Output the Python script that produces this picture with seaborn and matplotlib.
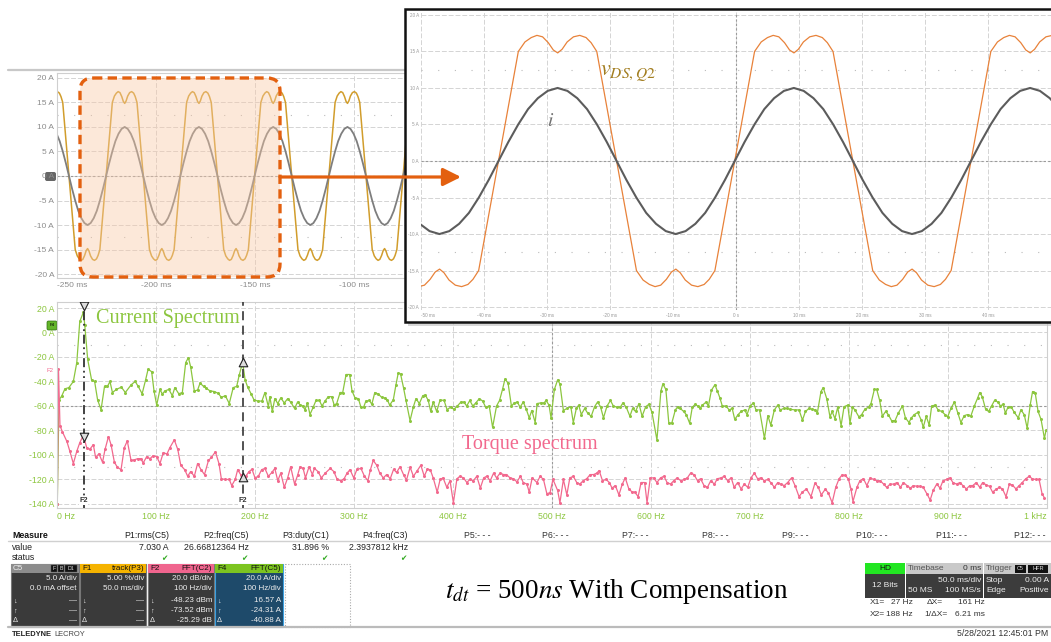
import numpy as np
import pandas as pd
import matplotlib
matplotlib.use("Agg")
import matplotlib.pyplot as plt
import seaborn as sns
from matplotlib.patches import FancyBboxPatch, Rectangle

# ----------------------------------------------------------------- data
# one measured cycle of each waveform (phase in ms from the rising zero crossing)
PERIOD_MS = 37.5
FIRST_RISE_MS = -262.7
N_CYCLES = 15

vds_phase = [0.0, 1.05, 2.1, 3.15, 4.2, 5.2, 6.1, 7.0, 7.9, 8.7, 9.4, 10.1, 10.9, 11.9, 12.9,
             13.9, 14.7, 15.6, 16.65, 17.7,
             18.75, 19.8, 20.85, 21.9, 22.95, 23.95, 24.85, 25.75, 26.65, 27.45, 28.15, 28.85,
             29.65, 30.65, 31.65, 32.65, 33.45, 34.35, 35.4, 36.45]
vds_amp = [0, 5, 10, 15, 16.3, 16.9, 17.2, 17.0, 16.2, 15.2, 14.8, 15.3, 16.3, 17.0, 17.2,
           16.9, 16.2, 15.0, 10, 5,
           0, -5, -10, -15, -16.3, -16.9, -17.2, -17.0, -16.2, -15.2, -14.8, -15.3,
           -16.3, -17.0, -17.2, -16.9, -16.2, -15.0, -10, -5]

cur_phase = [0.0, 1.56, 3.13, 4.69, 6.25, 7.81, 9.38, 10.94, 12.5, 14.06, 15.63, 17.19,
             18.75, 20.31, 21.88, 23.44, 25.0, 26.56, 28.13, 29.69, 31.25, 32.81, 34.38, 35.94]
cur_amp = [0, 2.6, 5.0, 7.1, 8.6, 9.6, 10.0, 9.6, 8.6, 7.1, 5.0, 2.6,
           0, -2.6, -5.0, -7.1, -8.6, -9.6, -10.0, -9.6, -8.6, -7.1, -5.0, -2.6]

# current spectrum (F4)
cs_hz = [0.3, 2, 4.7, 8, 12, 16.5, 20, 23, 26.7, 28, 31, 35, 38, 41, 44.5, 48, 51, 53.5, 56, 60, 65, 69,
         75, 79, 82, 86, 89.5, 92, 95.6, 98, 100.7, 104, 106.4, 109, 113, 116.5, 119, 123, 126.6, 130,
         132.7, 135, 138.7, 142, 144.5, 148, 151, 154.6, 159, 163, 166, 170, 174, 178, 181.5, 184,
         187.5, 190, 192.6, 196, 199, 203, 207, 210, 213.5, 215, 217.5, 220, 223, 226, 229.6, 233,
         236, 240, 243, 245.5, 248, 250.5, 253, 255.5, 259, 261.6, 265, 267.7, 270.7, 274, 277.5,
         280, 282.5, 286, 288.6, 292, 295.6, 298, 301, 304.4, 307, 309.7, 312, 315.6, 318, 321,
         324.6, 328, 331, 333.7, 336, 339.7, 342.4, 344.7, 347, 350, 352.5, 356.6, 360, 362.6, 366,
         369.5, 372, 375, 377.5, 380, 383.5, 387, 391, 394, 397.6, 401, 404.4, 408, 411, 413.8, 417,
         420, 423, 426.6, 430, 433, 436.6, 440, 444, 447, 450, 452.5, 455.6, 459, 462, 465, 467.7,
         471, 474, 477, 479.6, 483, 485, 488.6, 492, 494, 497, 499, 502.4, 505.7, 508, 511.5, 515,
         519, 521.5, 524.6, 527, 529.6, 533, 536, 539.6, 543, 546, 549, 552, 555.6, 559, 562, 565.6,
         569, 571.6, 575, 578.7, 581.4, 584.4, 587.8, 591, 594.6, 598, 601, 606, 610, 612, 615, 618,
         621, 624.6, 627, 629.6, 633, 635.6, 639, 641.7, 644.7, 647, 649.6, 652, 655.6, 658, 661,
         664.6, 667, 669.6, 672, 675.6, 679, 682, 684.6, 688, 691, 694.6, 697, 700, 703.5, 706,
         709.6, 714.6, 718, 721, 724.6, 728, 730.6, 734, 737, 740.6, 745.5, 749.5, 753, 756, 759.6,
         763, 765.6, 768, 771.7, 774, 777.5, 780.8, 783, 785.8, 788.6, 792, 795, 798.7, 801, 803.5,
         806, 810, 812.8, 816, 819.7, 822.2, 825.6, 828, 831, 833.7, 837, 839.7, 843, 846.5, 849.8,
         854, 857, 860.6, 863, 866, 869.4, 873, 875, 878, 881, 883.5, 887, 890, 893.6, 897, 899.6,
         903, 906.4, 910, 913, 916.4, 919.7, 923, 926.6, 930, 932, 934.6, 938, 941, 944, 947, 950.5,
         953, 955.6, 958, 960.6, 964, 967, 971, 973.6, 977, 980, 983, 985.4, 988, 991, 994, 997.4, 999]
cs_db = [-140, -55, -52, -46, -45, -40, -24.5, 9, 16.6, 6.5, -22, -39, -40, -55, -63, -44, -44, -40, -49,
         -46.5, -44.6, -49, -42.6, -40, -44, -50, -38.7, -30, -32, -47.7, -59.3, -46.5, -50.3, -47.7,
         -46.5, -51.6, -45, -50, -49, -24.5, -20.6, -28, -47.7, -47, -41.3, -44, -45.7, -47.7, -48.2,
         -49.8, -53, -51.6, -58, -45, -44, -35, -24.3, -38.7, -44.6, -50, -55, -56, -56, -49, -60.6,
         -52.4, -64.5, -54, -58, -53.4, -57.5, -54, -56.8, -62, -56.8, -59, -60, -63, -57.5, -67,
         -60.6, -55.5, -55.5, -60, -56, -52.4, -52.4, -59.3, -58, -49, -49, -34.3, -34.3, -47.7,
         -53.4, -54, -61, -61, -56, -55.5, -58.6, -49, -50.3, -53, -53.4, -55, -59.3, -55, -42.6,
         -33, -33.8, -45, -55.5, -72, -60.6, -54, -58, -51.6, -51, -55.5, -64.5, -56.8, -64.5, -55,
         -55.5, -63, -61, -62.7, -60, -56.8, -56.8, -60, -55.5, -60, -57.5, -54, -56, -61, -60,
         -77.4, -60, -55.5, -46.5, -38, -41.3, -60, -57.5, -56.8, -61, -56.8, -62.7, -69.7, -63.7,
         -73.5, -58, -57.5, -57.5, -55.5, -59.3, -69.7, -46.5, -38.7, -42, -63.7, -62, -60.6, -73.5,
         -62, -59.3, -67, -62, -65.8, -68.4, -60.6, -56.8, -60.6, -69.7, -60, -55.5, -60, -61, -61,
         -57.5, -61, -68.4, -62, -64.5, -58, -68.4, -60.6, -58.6, -65.3, -87.7, -47.7, -42, -46.5,
         -74, -74, -63.2, -60.6, -62, -64.5, -67, -74, -61, -58.6, -60, -62, -59.3, -56.8, -60,
         -47.2, -42.6, -47.7, -53.4, -60, -60, -63.2, -62, -71, -67, -64.5, -63.2, -67, -60, -57.5,
         -63.2, -63.2, -86.4, -67.9, -75.6, -63.2, -59.3, -63.2, -62, -62, -62.7, -63.2, -63.2,
         -71.5, -64.5, -62, -62.7, -63.2, -65.8, -48.2, -45, -54, -68.9, -64.5, -70.4, -61, -76,
         -60.6, -59.3, -74, -61, -63.2, -68.9, -67, -62.7, -61, -58, -46.5, -46.5, -55.5, -68.4,
         -64.5, -67, -72, -72, -65.8, -60, -69.7, -73.5, -69.7, -67, -65.3, -71.5, -77.4, -68.4,
         -75.6, -60, -59.3, -63.2, -64.5, -67, -68.9, -62, -56.8, -65.8, -73.5, -67.9, -67, -68.4,
         -60, -53.4, -49, -52.4, -62.7, -64.5, -60, -55.5, -56.8, -60, -58.6, -65.8, -61, -61,
         -65.3, -69.7, -63.2, -67, -78.2, -59.3, -48.2, -49, -64.5, -71, -86.4, -80]

# torque spectrum (F2)
ts_hz = [0.3, 1.5, 3, 5.4, 10, 13, 16.5, 20, 23, 26.6, 30, 33, 36.7, 39, 42.4, 46, 48.5, 52, 54.6, 58,
         61, 64.7, 68, 71, 74.8, 78, 81.5, 84.8, 87, 90.6, 94, 97, 100.7, 104, 107.4, 111, 114,
         118.5, 122, 125, 129, 132, 135, 138.7, 142, 145.5, 149, 153, 156, 160, 163.6, 166, 170,
         174, 176.5, 180, 182.5, 186, 188, 190.6, 194, 197, 200, 203.4, 206.7, 210, 213.5, 217, 220,
         223, 226, 229.6, 233, 236, 240, 243, 245.5, 248.6, 251, 254.6, 258, 260, 263.6, 267, 271,
         276, 279.6, 283, 286.6, 290, 293, 296, 299.7, 303, 307, 310.6, 314, 316.6, 319.4, 323, 326,
         329.6, 333, 336.6, 340, 343, 346.5, 350, 353, 356.7, 360, 364, 367.5, 371, 374, 377, 380,
         384, 387, 390, 393.7, 397, 400.4, 404, 407, 410.6, 414, 417, 420.6, 424, 427.6, 431, 434,
         437.6, 441, 444, 447.6, 451, 454, 457.6, 461, 464.6, 468, 471, 474.6, 477, 480, 484.8, 488,
         491.4, 494.8, 498, 501, 505.7, 508, 511.5, 515, 518, 521.5, 525, 528, 531.6, 535, 538.6,
         542, 545.3, 547.6, 551, 554.6, 558, 560.6, 564, 567.6, 571, 574, 577.6, 581, 583.6, 587,
         590, 593.6, 596, 599.3, 602.7, 606, 609.6, 613, 616.3, 619.7, 623, 626.6, 630, 633.3,
         636.7, 640, 643.4, 647, 650, 653.6, 657, 660.4, 664, 667, 670.7, 674, 677.4, 681, 684,
         687.5, 691, 694.3, 697.7, 701, 704.4, 707.7, 711, 714.6, 718, 721, 724.6, 728, 731, 734.6,
         738, 742, 745.5, 749.5, 753, 757, 761.6, 765.6, 769, 772, 776, 779, 783, 786.6, 790, 793,
         796, 799.3, 802, 804, 808, 811, 814.6, 818, 821.5, 824.8, 828, 831.6, 835, 838, 841.6,
         845, 848.5, 852, 855, 858.6, 862, 865, 868.7, 872, 875, 878.6, 882, 885, 888.6, 892, 895,
         898.6, 902, 905, 908.6, 912, 915, 918.6, 922, 925, 928.6, 932, 935, 938.6, 942, 945,
         948.6, 952, 955, 958.6, 962, 965, 968.6, 972, 975, 978.6, 982, 985, 988.6, 992, 995, 997.4]
ts_db = [-140, -30, -76, -81, -89, -97, -107, -97, -90, -84, -94, -95.5, -91.6, -102, -99, -106, -95.5,
         -85, -91.6, -106, -110, -112, -94, -88.5, -104.5, -104, -103, -103, -106.6, -101.4, -103,
         -100.6, -101.4, -107, -98, -99.3, -94, -87.7, -95.5, -108.4, -112, -117.4, -113.5, -117.4,
         -107, -112, -116, -104.5, -102, -97.4, -107, -119.4, -120, -120, -125, -120, -112, -116.7,
         -118, -117.4, -113.5, -111.7, -118.7, -117.4, -112, -111, -117.4, -114.3, -111, -121,
         -114.8, -126.4, -118.7, -109.6, -123.8, -116.7, -109.6, -111, -118.7, -109.6, -116, -111,
         -113.5, -118.7, -114.8, -111, -113.5, -120, -121, -119.4, -114.8, -112, -118.7, -111.7,
         -111, -117.4, -121, -112, -104.5, -108.4, -114.8, -118.7, -116, -119.4, -111.7, -114.3,
         -109.6, -116, -120.5, -110, -117.4, -112.7, -108.4, -117.4, -111.7, -112, -118.7, -130.3,
         -120, -118.7, -126.4, -121, -139, -119.4, -117.4, -118.7, -122.5, -120, -121, -117.4, -127,
         -118.7, -117.4, -121, -114.8, -118.7, -114.8, -116, -116, -118.7, -119.4, -122, -117.4,
         -122.5, -123.8, -130.3, -118.7, -122.5, -117.4, -120, -131.6, -130.8, -120, -129, -139,
         -120, -132.6, -118.7, -117.4, -122.5, -123.8, -121, -119.4, -116, -116, -114.8, -112.7,
         -121, -120, -122.5, -127, -125, -132.6, -123.8, -118.7, -127.7, -130.3, -130.3, -134,
         -122.5, -122.5, -139, -118.7, -118.7, -122.5, -118.7, -117.4, -122.5, -123.8, -121, -118.7,
         -121, -120, -118.7, -114.8, -116, -121, -119.4, -125, -126.4, -121, -123.8, -119.4, -118.7,
         -117.4, -121, -118.7, -126.4, -122.5, -127.7, -123.8, -126.4, -118.7, -114.8, -119.4,
         -118.7, -121, -120, -122.5, -126.4, -122.5, -123.8, -125, -122.5, -118.7, -125, -134,
         -130.3, -127.7, -134, -123, -126.4, -132.6, -128, -130.8, -139, -126.4, -119.4, -116.3,
         -116.7, -119.4, -127.7, -138, -126.4, -121, -119.4, -125, -118.7, -120, -121, -121, -123.8,
         -126.4, -123.8, -123.8, -122.5, -126.4, -122.5, -125, -127, -125, -125.6, -125.6, -126.4,
         -131.6, -136.8, -129, -123.8, -127, -121, -120, -118.7, -122.5, -123.8, -122.5, -125,
         -127.7, -125, -125, -122.5, -126.4, -122.5, -124.5, -125.6, -130.3, -128, -126.4, -127.7,
         -134, -123.8, -124.5, -127.7, -125, -122.5, -119.4, -117.4, -119.4, -120, -120, -131.6, -135]

# cursor readouts
cursor_hz = [27, 188]
cursor_cur_db = [16.57, -24.31]
cursor_tq_db = [-85, -118]

top_yticks = [20, 15, 10, 5, 0, -5, -10, -15, -20]
top_xticks = [-250, -200, -150, -100, -50, 0, 50, 100, 150, 200]
inset_xticks = [-50, -40, -30, -20, -10, 0, 10, 20, 30, 40]
inset_xlabels = ["-50 ms", "-40 ms", "-30 ms", "-20 ms", "-10 ms", "0 s", "10 ms", "20 ms", "30 ms", "40 ms"]
spec_yticks = [20, 0, -20, -40, -60, -80, -100, -120, -140]
spec_xticks = [0, 100, 200, 300, 400, 500, 600, 700, 800, 900, 1000]
spec_xlabels = ["0 Hz", "100 Hz", "200 Hz", "300 Hz", "400 Hz", "500 Hz", "600 Hz",
                "700 Hz", "800 Hz", "900 Hz", "1 kHz"]

meas_names = ["P1:rms(C5)", "P2:freq(C5)", "P3:duty(C1)", "P4:freq(C3)"]
meas_values = ["7.030 A", "26.66812364 Hz", "31.896 %", "2.3937812 kHz"]
empty_params = ["P5:- - -", "P6:- - -", "P7:- - -", "P8:- - -", "P9:- - -", "P10:- - -", "P11:- - -", "P12:- - -"]

# ----------------------------------------------------------------- build frames
rows = []
for k in range(N_CYCLES):
    t0 = FIRST_RISE_MS + k * PERIOD_MS
    for p, a in zip(vds_phase, vds_amp):
        rows.append(("vds", t0 + p, a))
    for p, a in zip(cur_phase, cur_amp):
        rows.append(("i", t0 + p, a))
wave = pd.DataFrame(rows, columns=["trace", "t", "amp"]).sort_values(["trace", "t"])
vds = wave[wave.trace == "vds"]
cur = wave[wave.trace == "i"]
cs = pd.DataFrame({"f": cs_hz, "db": cs_db})
ts = pd.DataFrame({"f": ts_hz, "db": ts_db})

# ----------------------------------------------------------------- figure
W, H = 1051, 642
sns.set_theme(style="white")
plt.rcParams['font.family'] = ['Liberation Sans', 'DejaVu Sans']
plt.rcParams['mathtext.fontset'] = 'stix'

fig = plt.figure(figsize=(W / 100, H / 100), dpi=100)
fig.patch.set_facecolor("white")


def px_axes(x0, y0, x1, y1, z):
    ax = fig.add_axes([x0 / W, 1 - y1 / H, (x1 - x0) / W, (y1 - y0) / H])
    ax.set_zorder(z)
    return ax


def overlay(z):
    ov = px_axes(0, 0, W, H, z)
    ov.set_xlim(0, W)
    ov.set_ylim(H, 0)
    ov.axis("off")
    ov.patch.set_visible(False)
    return ov


GRID = "#D4D4D4"
CENTER = "#9A9A9A"


def scope_style(ax, xgrid, ygrid, xc, yc, half):
    ax.set_facecolor("white")
    for v in xgrid:
        ax.axvline(v, color=GRID, lw=0.7, ls=(0, (5, 2)), zorder=0)
    for v in ygrid:
        ax.axhline(v, color=GRID, lw=0.7, ls=(0, (5, 2)), zorder=0)
    ax.axvline(xc, color=CENTER, lw=0.8, ls=(0, (2, 2)), zorder=0)
    ax.axhline(yc, color=CENTER, lw=0.8, ls=(0, (2, 2)), zorder=0)
    for v in half:
        ax.axhline(v, color="#BBBBBB", lw=0.8, ls=(0, (1, 14)), zorder=0)
    for s in ax.spines.values():
        s.set_color("#CFCFCF")
        s.set_linewidth(0.8)
    ax.tick_params(length=0)
    ax.set_xlabel("")
    ax.set_ylabel("")


base = overlay(0)

# ---------------- top-left scope panel
ax_top = px_axes(57, 73, 1047, 278, 1)
sns.lineplot(data=vds, x="t", y="amp", ax=ax_top, color="#D19D2C", lw=1.1,
             estimator=None, sort=False, errorbar=None)
sns.lineplot(data=cur, x="t", y="amp", ax=ax_top, color="#7E7E7E", lw=1.3,
             estimator=None, sort=False, errorbar=None)
ax_top.set_xlim(-250, 250)
ax_top.set_ylim(-20.8, 21.0)
scope_style(ax_top, top_xticks, top_yticks, 0, 0, [12.5, -12.5])
ax_top.set_yticks(top_yticks)
ax_top.set_yticklabels([f"{v} A" for v in top_yticks], fontsize=6, color="#8C8C8C")
ax_top.set_xticks(top_xticks)
ax_top.set_xticklabels([f"{v} ms" for v in top_xticks], fontsize=6, color="#8C8C8C")
ax_top.tick_params(axis="y", pad=2)
ax_top.tick_params(axis="x", pad=3)
ax_top.get_xticklabels()[0].set_ha("left")

# ---------------- spectrum panel
ax_sp = px_axes(57, 302, 1047, 508, 1)
sns.lineplot(data=cs, x="f", y="db", ax=ax_sp, color="#8CC63F", lw=0.9, marker="o",
             markersize=2.2, markeredgewidth=0, estimator=None, sort=False, errorbar=None)
sns.lineplot(data=ts, x="f", y="db", ax=ax_sp, color="#F2698E", lw=0.9, marker="o",
             markersize=2.2, markeredgewidth=0, estimator=None, sort=False, errorbar=None)
ax_sp.set_xlim(0, 1000)
ax_sp.set_ylim(-143.3, 24.9)
scope_style(ax_sp, spec_xticks, spec_yticks, 500, -60, [-10, -110])
ax_sp.set_yticks(spec_yticks)
ax_sp.set_yticklabels([f"{v} A" for v in spec_yticks], fontsize=6.3, color="#8DC63F")
ax_sp.set_xticks(spec_xticks)
ax_sp.set_xticklabels(spec_xlabels, fontsize=6.3, color="#8DC63F")
ax_sp.tick_params(axis="y", pad=2)
ax_sp.tick_params(axis="x", pad=3)
ax_sp.get_xticklabels()[0].set_ha("left")
ax_sp.get_xticklabels()[-1].set_ha("right")
# cursors
ax_sp.axvline(cursor_hz[0], color="#333333", lw=1.3, ls=(0, (5, 2, 1, 2, 1, 2)), zorder=3)
ax_sp.axvline(cursor_hz[1], color="#444444", lw=1.3, ls=(0, (5, 3)), zorder=3)
ax_sp.scatter([cursor_hz[0]], [22], marker="v", s=38, color="#DDDDDD", edgecolor="#222222", lw=0.8, zorder=4)
ax_sp.scatter([cursor_hz[0]], [cursor_tq_db[0]], marker="v", s=38, color="#DDDDDD", edgecolor="#222222", lw=0.8, zorder=4)
ax_sp.scatter([cursor_hz[1]], [cursor_cur_db[1]], marker="^", s=38, color="#DDDDDD", edgecolor="#222222", lw=0.8, zorder=4)
ax_sp.scatter([cursor_hz[1]], [cursor_tq_db[1]], marker="^", s=38, color="#DDDDDD", edgecolor="#222222", lw=0.8, zorder=4)
for f in cursor_hz:
    ax_sp.text(f, -137.5, "F2", fontsize=5.2, ha="center", va="center", color="#333333",
               fontweight="bold", bbox=dict(fc="white", ec="none", pad=0.3), zorder=5)

# ---------------- middle overlay: highlighted window + inset background
mid = overlay(2)
mid.add_patch(FancyBboxPatch((80, 78), 200, 199, boxstyle="round,pad=0,rounding_size=13",
                             fc="#F9C9A6", alpha=0.42, ec="none"))
mid.add_patch(FancyBboxPatch((80, 78), 200, 199, boxstyle="round,pad=0,rounding_size=13",
                             fc="none", ec="#E3600F", lw=2.4, ls=(0, (2.8, 1.6))))
mid.add_patch(Rectangle((408, 12), 650, 314, fc="#BDBDBD", ec="none", alpha=0.6))
mid.add_patch(Rectangle((405, 9), 652, 313, fc="white", ec="#111111", lw=1.8))

# ---------------- inset zoom
ax_in = px_axes(421, 12, 1051, 310, 3)
ax_in.patch.set_visible(False)
sns.lineplot(data=vds, x="t", y="amp", ax=ax_in, color="#E8823A", lw=0.9,
             estimator=None, sort=False, errorbar=None)
sns.lineplot(data=cur, x="t", y="amp", ax=ax_in, color="#5C5C5C", lw=1.5,
             estimator=None, sort=False, errorbar=None)
ax_in.set_xlim(-50, 50)
ax_in.set_ylim(-20.4, 20.4)
scope_style(ax_in, inset_xticks, top_yticks, 0, 0, [12.5, -12.5])
for s in ax_in.spines.values():
    s.set_visible(False)
ax_in.set_yticks(top_yticks)
ax_in.set_yticklabels([f"{v} A" for v in top_yticks], fontsize=3.3, color="#999999")
ax_in.set_xticks(inset_xticks)
ax_in.set_xticklabels(inset_xlabels, fontsize=3.3, color="#999999")
ax_in.tick_params(axis="y", pad=1.5)
ax_in.tick_params(axis="x", pad=2)
ax_in.get_xticklabels()[0].set_ha("left")

# ---------------- top overlay: arrow and annotations
top = overlay(4)
top.annotate("", xy=(461, 177), xytext=(280, 177),
             arrowprops=dict(arrowstyle="-|>,head_length=0.9,head_width=0.45", lw=2.3,
                             color="#E3600F", shrinkA=0, shrinkB=0))
top.text(600, 73, r"$v_{DS,Q2}$", fontsize=16, color="#A27D1F", ha="left", va="center")
top.text(551, 122, r"$i$", fontsize=14, color="#707070", ha="center", va="center")
top.text(96, 318, "Current Spectrum", fontsize=14.5, color="#8CC63F", family="Liberation Serif",
         ha="left", va="center")
top.text(462, 444, "Torque spectrum", fontsize=14.5, color="#F2698E", family="Liberation Serif",
         ha="left", va="center")

# ---------------- base overlay: frame lines, labels, status panels
base.plot([8, 405], [70, 70], color="#C8C8C8", lw=1.6)
base.plot([8, 1051], [541, 541], color="#D0D0D0", lw=1.0)
base.plot([8, 1051], [627, 627], color="#BBBBBB", lw=1.6)
base.add_patch(FancyBboxPatch((45, 172), 11, 9, boxstyle="round,pad=0,rounding_size=2", fc="#666666", ec="none"))
base.add_patch(FancyBboxPatch((47, 321), 10, 9, boxstyle="round,pad=0,rounding_size=1.5", fc="#63B52A", ec="#2F6E10", lw=0.5))
base.text(52, 325.5, "F4", fontsize=3.2, color="black", ha="center", va="center")
base.text(50, 370, "F2", fontsize=4.3, color="#F2698E", ha="center", va="center")

# measure table
FS = 6.3
base.text(12, 535, "Measure", fontsize=FS, fontweight="bold", va="center", color="#111111")
base.text(12, 547, "value", fontsize=FS, va="center", color="#222222")
base.text(12, 558, "status", fontsize=FS, va="center", color="#222222")
meas_right = [169, 249, 329, 408]
for xr, n, v in zip(meas_right, meas_names, meas_values):
    base.text(xr, 535, n, fontsize=FS, ha="right", va="center", color="#222222")
    base.text(xr, 547, v, fontsize=FS, ha="right", va="center", color="#222222")
    base.text(xr - 5, 558, "\u2714", fontsize=5.5, ha="center", va="center", color="#33AA22",
              family=["DejaVu Sans"])
empty_right = [491, 569, 649, 729, 808, 887, 967, 1046]
for xr, n in zip(empty_right, empty_params):
    base.text(xr, 535, n, fontsize=FS, ha="right", va="center", color="#333333")

# channel boxes
boxes = [
    (11, 79, "#8C8C8C", "#3A3A3A", "C5", "", "#F0F0F0",
     ["5.0 A/div", "0.0 mA offset"], ["\u2014", "\u2014", "\u2014"]),
    (80, 146, "#F5B300", "#3A3A3A", "F1", "track(P3)", "#111111",
     ["5.00 %/div", "50.0 ms/div"], ["\u2014", "\u2014", "\u2014"]),
    (148, 214, "#F0658E", "#3A3A3A", "F2", "FFT(C2)", "#111111",
     ["20.0 dB/div", "100 Hz/div"], ["-48.23 dBm", "-73.52 dBm", "-25.29 dB"]),
    (215, 283, "#7CC421", "#1E4A6A", "F4", "FFT(C5)", "#111111",
     ["20.0 A/div", "100 Hz/div"], ["16.57 A", "-24.31 A", "-40.88 A"]),
]
for x0, x1, hc, bc, lab, fn, htc, l1, l3 in boxes:
    base.add_patch(Rectangle((x0, 564), x1 - x0, 63, fc=bc, ec="#3BA0E0" if lab == "F4" else "#777777", lw=0.8))
    base.add_patch(Rectangle((x0, 564), x1 - x0, 9, fc=hc, ec="none"))
    base.text(x0 + 2, 568.5, lab, fontsize=5.8, color=htc, va="center")
    if fn:
        base.text(x1 - 2, 568.5, fn, fontsize=5.8, color=htc, va="center", ha="right")
    base.text(x1 - 2, 579, l1[0], fontsize=5.8, color="#EEEEEE", va="center", ha="right")
    base.text(x1 - 2, 589, l1[1], fontsize=5.8, color="#EEEEEE", va="center", ha="right")
    for yy, sym, val in zip([601, 611, 621], ["\u2193", "\u2191", "\u0394"], l3):
        base.text(x0 + 2, yy, sym, fontsize=5.3, color="#EEEEEE", va="center")
        base.text(x1 - 2, yy, val, fontsize=5.8, color="#EEEEEE", va="center", ha="right")
for i, t in enumerate(["F", "B", "D1"]):
    bx = [51, 58, 65][i]
    base.add_patch(Rectangle((bx, 565), 6 if t != "D1" else 12, 7, fc="#111111", ec="#555555", lw=0.3))
    base.text(bx + (3 if t != "D1" else 6), 568.5, t, fontsize=3.8, color="#DDDDDD", ha="center", va="center")
base.add_patch(Rectangle((285, 564), 65, 63, fc="none", ec="#AAAAAA", lw=0.8, ls=(0, (1, 1.5))))

base.text(12, 635, "TELEDYNE", fontsize=5.4, fontweight="bold", va="center", color="#222222")
base.text(54, 635, "LECROY", fontsize=5.4, va="center", color="#444444")

# caption
base.text(617, 591, r"$t_{dt}$ = 500$ns$ With Compensation", fontsize=19.5, ha="center", va="center",
          family="Liberation Serif", color="black")

# acquisition panels (bottom right)
base.add_patch(Rectangle((865, 563), 40, 11, fc="#22E622", ec="none"))
base.text(885, 568.5, "HD", fontsize=6, ha="center", va="center", color="#111111")
base.add_patch(Rectangle((865, 574), 40, 24, fc="#3C3C3C", ec="none"))
base.text(885, 585.5, "12 Bits", fontsize=6, ha="center", va="center", color="#EEEEEE")
base.add_patch(Rectangle((906, 563), 77, 11, fc="#C9C9C9", ec="none"))
base.add_patch(Rectangle((906, 574), 77, 24, fc="#3C3C3C", ec="none"))
base.text(908, 568.5, "Timebase", fontsize=6, va="center", color="#555555")
base.text(981, 568.5, "0 ms", fontsize=6, va="center", ha="right", color="#333333")
base.text(981, 580, "50.0 ms/div", fontsize=6, va="center", ha="right", color="#EEEEEE")
base.text(908, 591, "50 MS", fontsize=6, va="center", color="#EEEEEE")
base.text(981, 591, "100 MS/s", fontsize=6, va="center", ha="right", color="#EEEEEE")
base.add_patch(Rectangle((984, 563), 67, 11, fc="#C9C9C9", ec="none"))
base.add_patch(Rectangle((984, 574), 67, 24, fc="#3C3C3C", ec="none"))
base.text(986, 568.5, "Trigger", fontsize=6, va="center", color="#555555")
base.add_patch(Rectangle((1015, 564.5), 11, 8, fc="#111111", ec="none"))
base.text(1020.5, 568.5, "C5", fontsize=4, va="center", ha="center", color="#DDDDDD")
base.add_patch(Rectangle((1028, 564.5), 20, 8, fc="#111111", ec="none"))
base.text(1038, 568.5, "HFR", fontsize=4, va="center", ha="center", color="#DDDDDD")
base.text(986, 580, "Stop", fontsize=6, va="center", color="#EEEEEE")
base.text(1049, 580, "0.00 A", fontsize=6, va="center", ha="right", color="#EEEEEE")
base.text(986, 591, "Edge", fontsize=6, va="center", color="#EEEEEE")
base.text(1049, 591, "Positive", fontsize=6, va="center", ha="right", color="#EEEEEE")

base.text(870, 603, "X1=", fontsize=6, va="center", color="#333333")
base.text(913, 603, "27 Hz", fontsize=6, va="center", ha="right", color="#333333")
base.text(927, 603, "\u0394X=", fontsize=6, va="center", color="#333333")
base.text(985, 603, "161 Hz", fontsize=6, va="center", ha="right", color="#333333")
base.text(870, 614, "X2=", fontsize=6, va="center", color="#333333")
base.text(913, 614, "188 Hz", fontsize=6, va="center", ha="right", color="#333333")
base.text(924, 614, "1/\u0394X=", fontsize=6, va="center", color="#333333")
base.text(985, 614, "6.21 ms", fontsize=6, va="center", ha="right", color="#333333")
base.text(1048, 634, "5/28/2021 12:45:01 PM", fontsize=6.3, va="center", ha="right", color="#333333")

fig.savefig("out.png", dpi=100, facecolor="white")
